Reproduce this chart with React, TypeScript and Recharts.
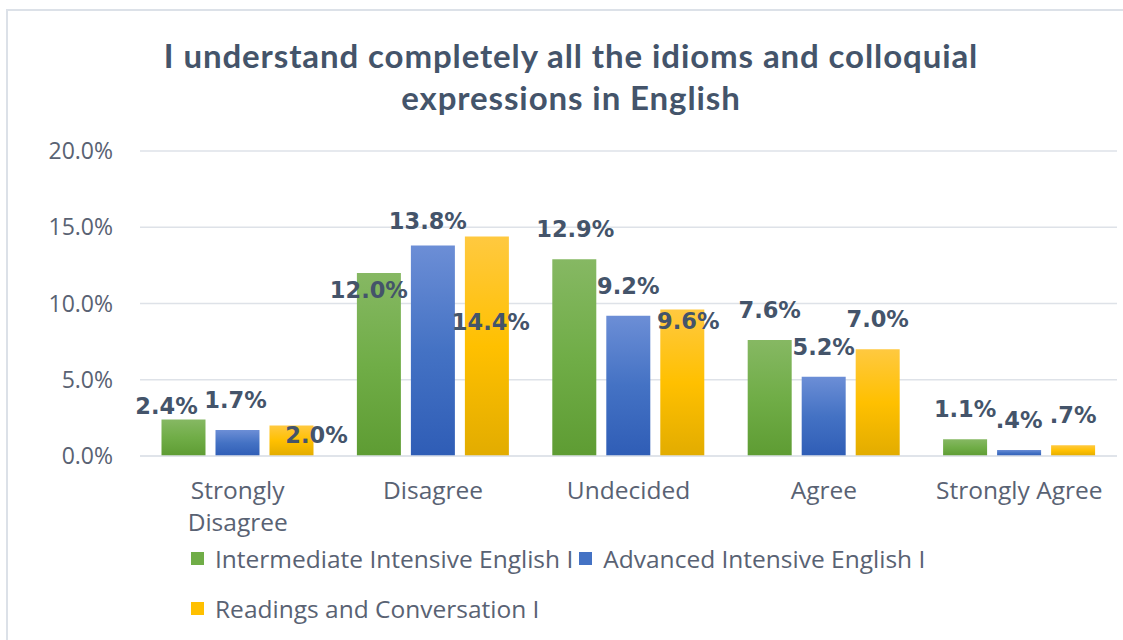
import { BarChart, Bar, XAxis, YAxis, CartesianGrid, LabelList } from "recharts";

const categories = ["Strongly\nDisagree", "Disagree", "Undecided", "Agree", "Strongly Agree"];
const intermediate = [2.4, 12.0, 12.9, 7.6, 1.1];
const advanced = [1.7, 13.8, 9.2, 5.2, 0.4];
const readings = [2.0, 14.4, 9.6, 7.0, 0.7];
const yTicks = [0, 5, 10, 15, 20];

const seriesNames = [
  "Intermediate Intensive English I",
  "Advanced Intensive English I",
  "Readings and Conversation I",
];

const data = categories.map((c, i) => ({
  name: c,
  intermediate: intermediate[i],
  advanced: advanced[i],
  readings: readings[i],
}));

// excel put some labels in odd spots, nudge them (dx, dy from "centered above bar")
const NUDGE: Record<string, [number, number][]> = {
  intermediate: [[-17, 17], [-10, 47], [1, 0], [0, 0], [0, 0]],
  advanced: [[-2, 0], [-5, 5], [0, 0], [0, 0], [0, 0]],
  readings: [[25, 39], [4, 116], [6, 41], [0, 0], [0, 0]],
};

const TEXT = "#44546A";
const AXIS_TEXT = "#596273";
const GRID = "#DEE2E8";

const fmtLabel = (v: number) => v.toFixed(1).replace(/^0/, "") + "%";

const makeLabel = (key: string) => (props: any) => {
  const { x, y, width, value, index } = props;
  const [dx, dy] = NUDGE[key][index] || [0, 0];
  return (
    <text
      x={x + width / 2 + dx}
      y={y - 30 + dy}
      textAnchor="middle"
      dominantBaseline="central"
      fill={TEXT}
      fontFamily="'DejaVu Sans', sans-serif"
      fontWeight={700}
      fontSize={22.5}
    >
      {fmtLabel(value)}
    </text>
  );
};

const CatTick = (props: any) => {
  const { x, y, payload } = props;
  const lines = String(payload.value).split("\n");
  return (
    <text x={x} y={y + 43} textAnchor="middle" fill={AXIS_TEXT} fontSize={24.5} fontFamily="'Open Sans', sans-serif">
      {lines.map((l, i) => (
        <tspan key={i} x={x} dy={i === 0 ? 0 : 32}>
          {l}
        </tspan>
      ))}
    </text>
  );
};

const legendColors = ["#70AD47", "#4472C4", "#FFC000"];

export default function App() {
  return (
    <div style={{ position: "absolute", left: 0, top: 0, width: 1123, height: 640, background: "#fff", overflow: "hidden" }}>
      <div
        style={{
          position: "absolute",
          left: 6,
          top: 9,
          width: 1130,
          height: 650,
          border: "2px solid #DCE1E8",
          boxSizing: "border-box",
        }}
      />
      <div
        style={{
          position: "absolute",
          left: 0,
          top: 34,
          width: 1142,
          textAlign: "center",
          fontFamily: "Lato, sans-serif",
          fontWeight: 700,
          fontSize: 33,
          letterSpacing: 0.9,
          lineHeight: "42px",
          color: TEXT,
        }}
      >
        I understand completely all the idioms and colloquial
        <br />
        expressions in English
      </div>
      <div style={{ position: "absolute", left: 0, top: 0 }}>
        <BarChart
          width={1123}
          height={640}
          data={data}
          margin={{ top: 151, right: 6, bottom: 154, left: 0 }}
          barCategoryGap="11%"
          barGap={10}
        >
          <defs>
            <linearGradient id="gGreen" x1="0" y1="0" x2="0" y2="1">
              <stop offset="0%" stopColor="#86B863" />
              <stop offset="50%" stopColor="#70AD47" />
              <stop offset="100%" stopColor="#5E9C33" />
            </linearGradient>
            <linearGradient id="gBlue" x1="0" y1="0" x2="0" y2="1">
              <stop offset="0%" stopColor="#6C8ED6" />
              <stop offset="50%" stopColor="#4472C4" />
              <stop offset="100%" stopColor="#2F5DB6" />
            </linearGradient>
            <linearGradient id="gYellow" x1="0" y1="0" x2="0" y2="1">
              <stop offset="0%" stopColor="#FFC940" />
              <stop offset="50%" stopColor="#FFC000" />
              <stop offset="100%" stopColor="#E2AC00" />
            </linearGradient>
          </defs>
          <CartesianGrid vertical={false} stroke={GRID} strokeWidth={1.5} />
          <XAxis
            dataKey="name"
            height={30}
            axisLine={{ stroke: GRID, strokeWidth: 1.5 }}
            tickLine={false}
            tickSize={0}
            tickMargin={0}
            interval={0}
            tick={<CatTick />}
          />
          <YAxis
            width={140}
            domain={[0, 20]}
            ticks={yTicks}
            axisLine={false}
            tickLine={false}
            tickSize={0}
            tickMargin={27}
            tickFormatter={(v: number) => v.toFixed(1) + "%"}
            tick={{ fill: AXIS_TEXT, fontSize: 23, fontFamily: "'Open Sans', sans-serif" }}
          />
          <Bar dataKey="intermediate" fill="url(#gGreen)" isAnimationActive={false}>
            <LabelList dataKey="intermediate" content={makeLabel("intermediate")} />
          </Bar>
          <Bar dataKey="advanced" fill="url(#gBlue)" isAnimationActive={false}>
            <LabelList dataKey="advanced" content={makeLabel("advanced")} />
          </Bar>
          <Bar dataKey="readings" fill="url(#gYellow)" isAnimationActive={false}>
            <LabelList dataKey="readings" content={makeLabel("readings")} />
          </Bar>
        </BarChart>
      </div>
      <div
        style={{
          position: "absolute",
          left: 191,
          top: 540,
          width: 900,
          fontFamily: "'Open Sans', sans-serif",
          fontSize: 24.5,
          color: AXIS_TEXT,
        }}
      >
        <div style={{ display: "flex", alignItems: "center", height: 36 }}>
          {seriesNames.slice(0, 2).map((n, i) => (
            <span key={n} style={{ display: "inline-flex", alignItems: "center", marginRight: 6 }}>
              <span style={{ width: 13, height: 13, background: legendColors[i], marginRight: 11, display: "inline-block" }} />
              {n}
            </span>
          ))}
        </div>
        <div style={{ display: "flex", alignItems: "center", height: 36, marginTop: 14 }}>
          <span style={{ width: 13, height: 13, background: legendColors[2], marginRight: 11, display: "inline-block" }} />
          {seriesNames[2]}
        </div>
      </div>
    </div>
  );
}
